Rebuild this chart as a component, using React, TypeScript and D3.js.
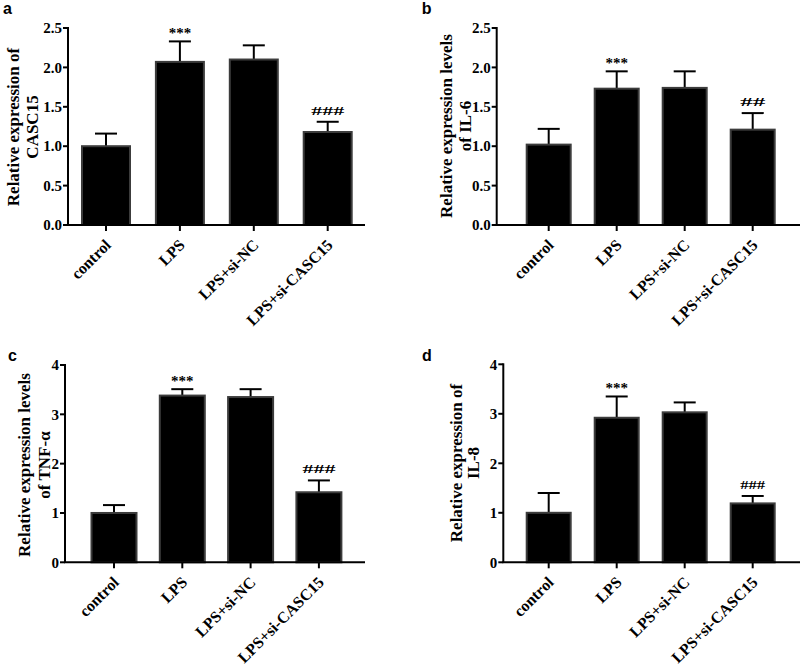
import React from "react";
import * as d3 from "d3";

const categories = ["control", "LPS", "LPS+si-NC", "LPS+si-CASC15"];

const casc15Mean = [1.0, 2.07, 2.1, 1.18];
const casc15Err = [0.16, 0.26, 0.18, 0.13];
const casc15Sig = ["", "***", "", "###"];

const il6Mean = [1.02, 1.73, 1.74, 1.21];
const il6Err = [0.2, 0.22, 0.21, 0.21];
const il6Sig = ["", "***", "", "##"];

const tnfMean = [1.0, 3.38, 3.35, 1.42];
const tnfErr = [0.16, 0.13, 0.16, 0.24];
const tnfSig = ["", "***", "", "###"];

const il8Mean = [1.0, 2.92, 3.03, 1.19];
const il8Err = [0.4, 0.43, 0.2, 0.15];
const il8Sig = ["", "***", "", "###"];

const ticksA = [0, 0.5, 1.0, 1.5, 2.0, 2.5];
const ticksC = [0, 1, 2, 3, 4];

const FONT = "'Liberation Serif', 'Times New Roman', serif";

type PanelCfg = {
  letter: string;
  mean: number[];
  err: number[];
  sig: string[];
  ticks: number[];
  fmt: string;
  yMax: number;
  labels: string[];
  axisX: number;
  axisEnd: number;
  y0: number;
  yTop: number;
  c1: number;
  step: number;
  bw: number;
  letterX: number;
  letterY: number;
  labelX: number[];
  labelCy: number;
  hashW: number;
};

const panels: PanelCfg[] = [
  {
    letter: "a", mean: casc15Mean, err: casc15Err, sig: casc15Sig, ticks: ticksA, fmt: ".1f", yMax: 2.5,
    labels: ["Relative expression of", "CASC15"],
    axisX: 68, axisEnd: 365, y0: 225, yTop: 28, c1: 106, step: 73.9, bw: 48,
    letterX: 3, letterY: 14, labelX: [19, 38], labelCy: 127, hashW: 33,
  },
  {
    letter: "b", mean: il6Mean, err: il6Err, sig: il6Sig, ticks: ticksA, fmt: ".1f", yMax: 2.5,
    labels: ["Relative expression levels", "of IL-6"],
    axisX: 496.7, axisEnd: 800, y0: 225, yTop: 28, c1: 548.7, step: 68, bw: 44,
    letterX: 421.7, letterY: 14, labelX: [451.7, 470.7], labelCy: 126, hashW: 25,
  },
  {
    letter: "c", mean: tnfMean, err: tnfErr, sig: tnfSig, ticks: ticksC, fmt: "d", yMax: 4,
    labels: ["Relative expression levels", "of TNF-α"],
    axisX: 65, axisEnd: 365, y0: 562.3, yTop: 365, c1: 114, step: 68.3, bw: 45,
    letterX: 8, letterY: 361, labelX: [30, 50], labelCy: 465, hashW: 33,
  },
  {
    letter: "d", mean: il8Mean, err: il8Err, sig: il8Sig, ticks: ticksC, fmt: "d", yMax: 4,
    labels: ["Relative expression of", "IL-8"],
    axisX: 503.3, axisEnd: 800, y0: 562.3, yTop: 364.3, c1: 548.7, step: 68, bw: 44,
    letterX: 422, letterY: 361, labelX: [462, 479], labelCy: 463, hashW: 25,
  },
];

function Panel({ p }: { p: PanelCfg }) {
  const y = d3.scaleLinear().domain([0, p.yMax]).range([p.y0, p.yTop]);
  const pad = 1 - p.bw / p.step;
  const x = d3
    .scaleBand<string>()
    .domain(categories)
    .range([p.c1 - p.step / 2, p.c1 - p.step / 2 + p.step * categories.length])
    .paddingInner(pad)
    .paddingOuter(pad / 2);
  const fmt = d3.format(p.fmt);
  const capW = 22;
  return (
    <g>
      <text x={p.letterX} y={p.letterY} fontFamily="'Liberation Sans', Arial, sans-serif" fontWeight="bold" fontSize={16}>
        {p.letter}
      </text>
      {p.labels.map((l, i) => (
        <text
          key={i}
          transform={`translate(${p.labelX[i]},${p.labelCy}) rotate(-90)`}
          textAnchor="middle"
          fontFamily={FONT}
          fontWeight="bold"
          fontSize={17}
        >
          {l}
        </text>
      ))}
      {categories.map((c, i) => {
        const cx = (x(c) as number) + x.bandwidth() / 2;
        const top = y(p.mean[i]);
        const et = y(p.mean[i] + p.err[i]);
        const s = p.sig[i];
        return (
          <g key={c}>
            <line x1={cx} x2={cx} y1={top} y2={et} stroke="#000" strokeWidth={2} />
            <line x1={cx - capW / 2} x2={cx + capW / 2} y1={et} y2={et} stroke="#000" strokeWidth={2} />
            <rect
              x={x(c) as number}
              y={top}
              width={x.bandwidth()}
              height={p.y0 - top}
              fill="#000"
              stroke="#3c3c3c"
              strokeWidth={2}
            />
            {s && s.startsWith("*") && (
              <text x={cx} y={et - 3} textAnchor="middle" fontFamily={FONT} fontWeight="bold" fontSize={15}>
                {s}
              </text>
            )}
            {s && s.startsWith("#") && (
              <text
                x={cx - p.hashW / 2}
                y={et - 7}
                fontFamily={FONT}
                fontWeight="bold"
                fontSize={13}
                textLength={p.hashW}
                lengthAdjust="spacingAndGlyphs"
              >
                {s}
              </text>
            )}
            <line x1={cx} x2={cx} y1={p.y0} y2={p.y0 + 6} stroke="#000" strokeWidth={2} />
            <text
              transform={`translate(${cx + 6},${p.y0 + 21}) rotate(-45)`}
              textAnchor="end"
              fontFamily={FONT}
              fontWeight="bold"
              fontSize={16}
            >
              {c}
            </text>
          </g>
        );
      })}
      <line x1={p.axisX} x2={p.axisX} y1={p.yTop - 1} y2={p.y0} stroke="#000" strokeWidth={2} />
      <line x1={p.axisX - 1} x2={p.axisEnd} y1={p.y0} y2={p.y0} stroke="#000" strokeWidth={2} />
      {p.ticks.map((t) => (
        <g key={t}>
          <line x1={p.axisX - 5} x2={p.axisX} y1={y(t)} y2={y(t)} stroke="#000" strokeWidth={2} />
          <text
            x={p.axisX - 6}
            y={y(t)}
            dy="0.35em"
            textAnchor="end"
            fontFamily={FONT}
            fontWeight="bold"
            fontSize={15}
          >
            {fmt(t)}
          </text>
        </g>
      ))}
    </g>
  );
}

export default function App() {
  return (
    <svg
      width={800}
      height={665}
      viewBox="0 0 800 665"
      style={{ position: "absolute", left: 0, top: 0, background: "#fff" }}
    >
      <rect width={800} height={665} fill="#fff" />
      {panels.map((p) => (
        <Panel key={p.letter} p={p} />
      ))}
    </svg>
  );
}
